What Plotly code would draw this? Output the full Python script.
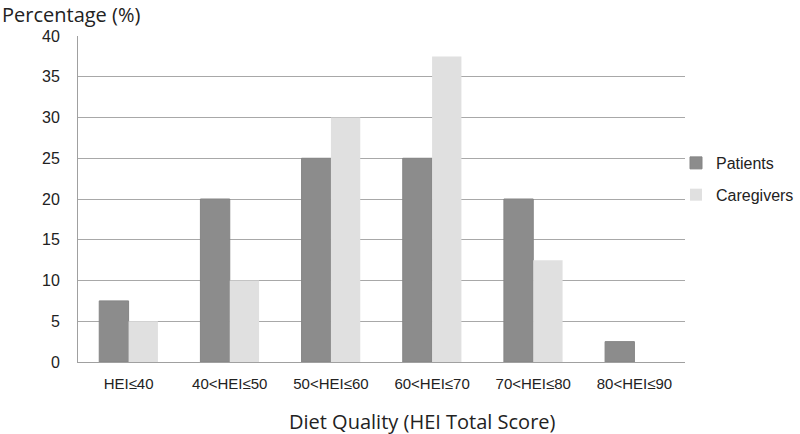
import plotly.graph_objects as go

categories = ["HEI≤40", "40<HEI≤50", "50<HEI≤60", "60<HEI≤70", "70<HEI≤80", "80<HEI≤90"]
patients = [7.5, 20, 25, 25, 20, 2.5]
caregivers = [5, 10, 30, 37.5, 12.5, 0]
y_ticks = [0, 5, 10, 15, 20, 25, 30, 35, 40]

fig = go.Figure()
fig.add_trace(go.Bar(name="Patients", x=categories, y=patients, legendgroup="p",
                     marker=dict(color="#8c8c8c", line=dict(color="#858585", width=1))))
fig.add_trace(go.Bar(name="Caregivers", x=categories, y=caregivers, legendgroup="c",
                     marker=dict(color="#e0e0e0", line=dict(width=0))))

title_font = dict(family="Open Sans, Noto Sans", size=20, color="#222")

fig.update_layout(
    width=800, height=434,
    margin=dict(l=78, r=115, t=36, b=72, autoexpand=False),
    paper_bgcolor="white", plot_bgcolor="white",
    barmode="group", bargap=0.42, bargroupgap=0,
    font=dict(family="Liberation Sans, Arial", size=14, color="#222"),
    showlegend=True,
    legend=dict(xref="container", yref="container", x=0.845, y=0.5876,
                xanchor="left", yanchor="middle", bgcolor="rgba(0,0,0,0)",
                font=dict(size=16, color="#222"), itemwidth=30,
                tracegroupgap=8),
    xaxis=dict(showgrid=False, showline=True, linecolor="#a0a0a0", linewidth=1,
               ticks="", tickfont=dict(size=15), ticklabelstandoff=8, automargin=False),
    yaxis=dict(range=[0, 40], tickvals=y_ticks, showgrid=True, gridcolor="#a8a8a8",
               gridwidth=1, showline=True, linecolor="#a0a0a0", linewidth=1, automargin=False,
               ticks="", tickfont=dict(size=16), ticklabelstandoff=14, zeroline=False),
    annotations=[
        dict(text="Percentage (%)", xref="paper", yref="paper",
             x=-0.1285, y=1.0, xanchor="left", yanchor="bottom", yshift=6,
             showarrow=False, font=title_font),
        dict(text="Diet Quality (HEI Total Score)", xref="paper", yref="paper",
             x=0.567, y=-0.181, xanchor="center", yanchor="middle",
             showarrow=False, font=title_font),
    ],
)

fig.write_html("out.html", config={"displayModeBar": False},
               post_script="document.body.style.margin='0px';")
